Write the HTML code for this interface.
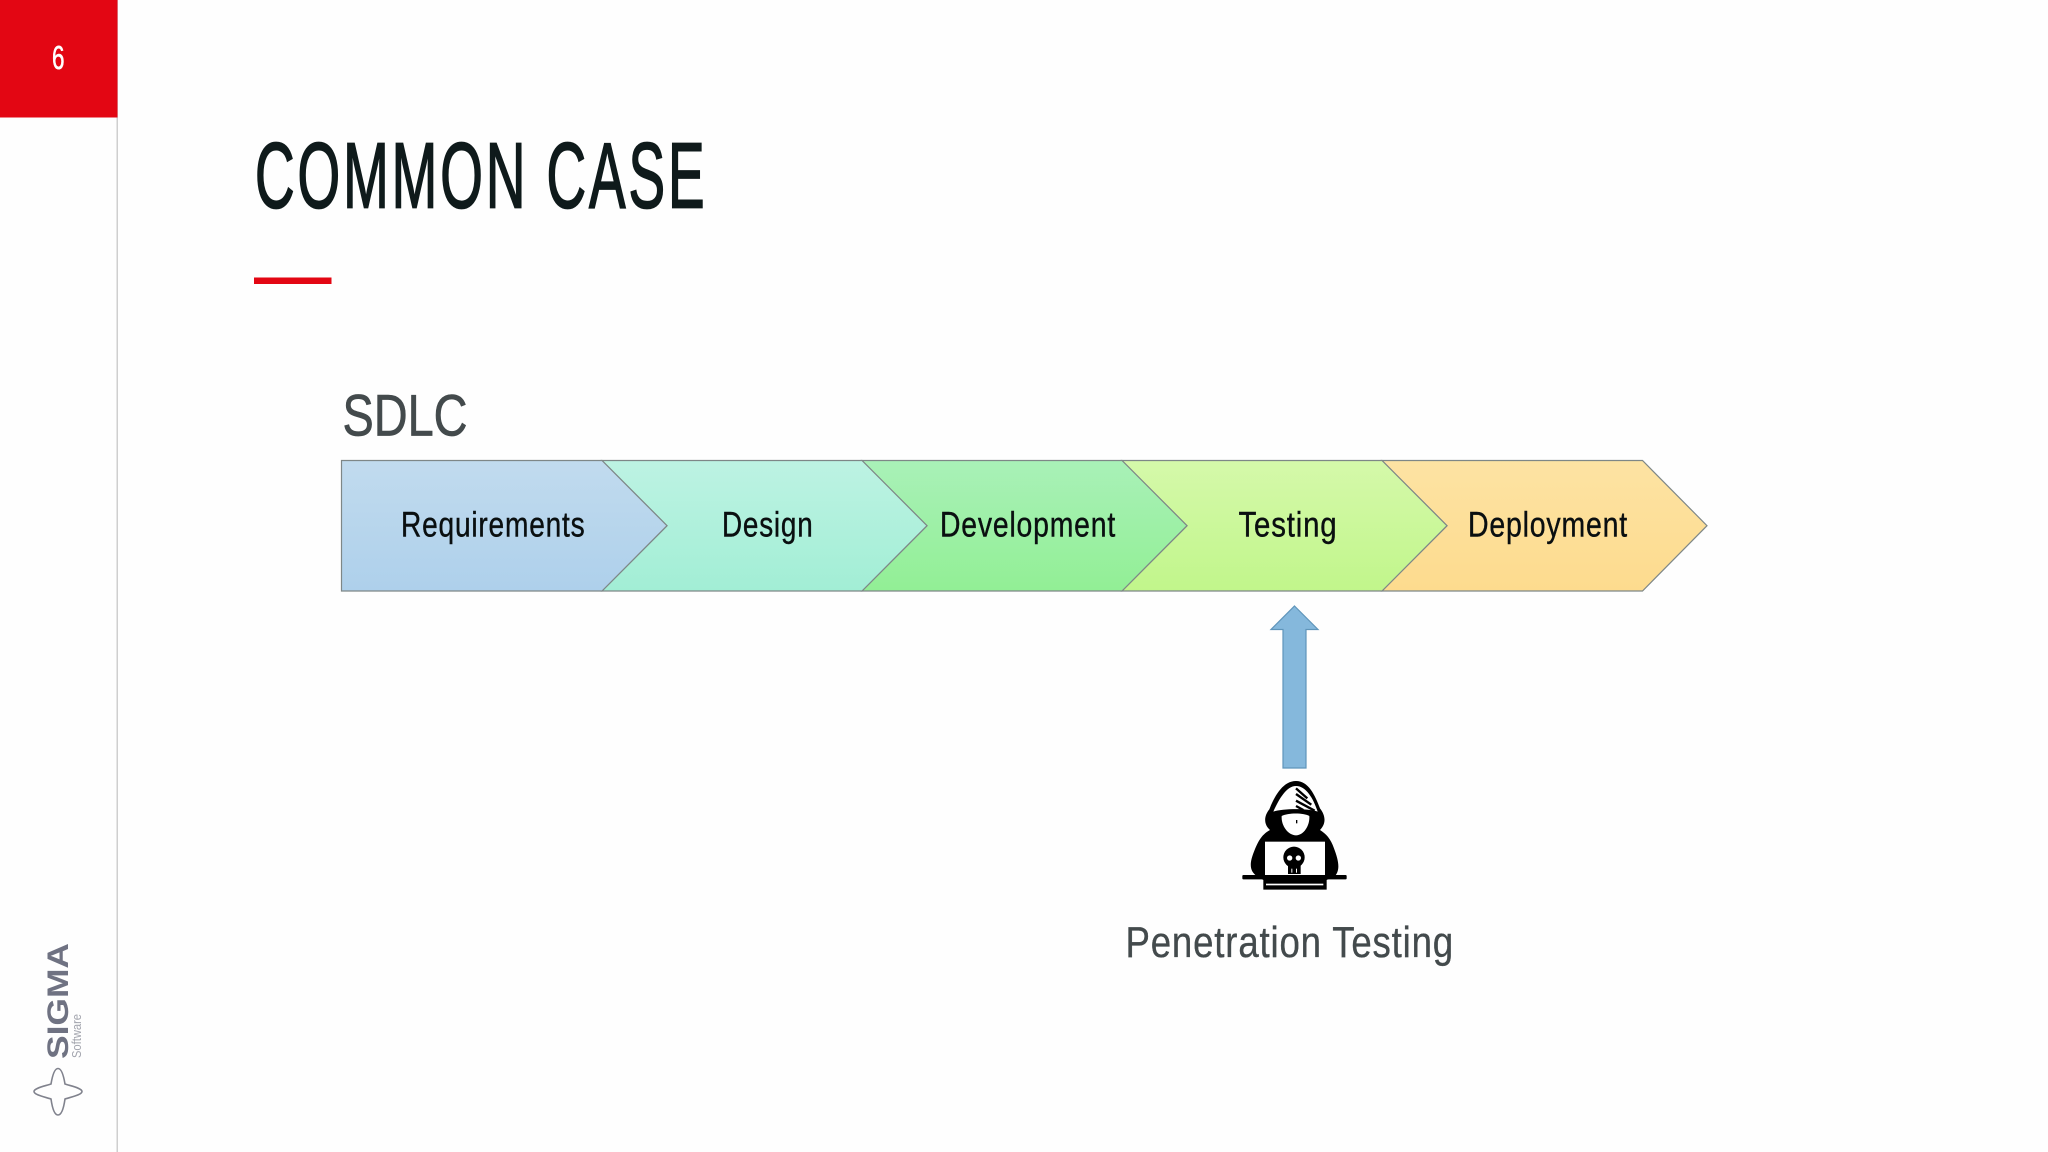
<!DOCTYPE html>
<html><head><meta charset="utf-8"><style>
html,body{margin:0;padding:0;background:#fff;width:2048px;height:1152px;overflow:hidden}
svg{display:block}
text{font-family:"Liberation Sans",sans-serif}
</style></head><body>
<svg width="2048" height="1152" viewBox="0 0 2048 1152" xmlns="http://www.w3.org/2000/svg">
<defs>
<linearGradient id="g1" x1="0" y1="0" x2="0" y2="1"><stop offset="0" stop-color="#c1dbee"/><stop offset="1" stop-color="#aed0eb"/></linearGradient>
<linearGradient id="g2" x1="0" y1="0" x2="0" y2="1"><stop offset="0" stop-color="#bdf3e3"/><stop offset="1" stop-color="#a2eed5"/></linearGradient>
<linearGradient id="g3" x1="0" y1="0" x2="0" y2="1"><stop offset="0" stop-color="#a9f1b8"/><stop offset="1" stop-color="#92ef95"/></linearGradient>
<linearGradient id="g4" x1="0" y1="0" x2="0" y2="1"><stop offset="0" stop-color="#d5f9aa"/><stop offset="1" stop-color="#c1f68b"/></linearGradient>
<linearGradient id="g5" x1="0" y1="0" x2="0" y2="1"><stop offset="0" stop-color="#fde3a3"/><stop offset="1" stop-color="#fddb8e"/></linearGradient>
</defs>
<rect width="2048" height="1152" fill="#fefefe"/>
<rect x="116.5" y="0" width="1.5" height="1152" fill="#cfcfcf"/>
<rect x="0" y="0" width="117.5" height="117.5" fill="#e30613"/>
<text x="52" y="69" font-size="33" fill="#fff" stroke="#fff" stroke-width="0.6" textLength="12.5" lengthAdjust="spacingAndGlyphs">6</text>

<text x="255" y="207.5" font-size="93" fill="#0f1a1b" stroke="#0f1a1b" stroke-width="1.8" letter-spacing="5" textLength="452.5" lengthAdjust="spacingAndGlyphs">COMMON CASE</text>
<rect x="254" y="277.5" width="77.5" height="6.5" fill="#e30613"/>

<text x="342.5" y="435.7" font-size="58" fill="#434a4c" stroke="#434a4c" stroke-width="0.7" textLength="125" lengthAdjust="spacingAndGlyphs">SDLC</text>

<g stroke="#7e8787" stroke-width="1.2" stroke-linejoin="miter">
<polygon points="1382,460.5 1642.5,460.5 1707,525.7 1642.5,591 1382,591 1447,525.7" fill="url(#g5)"/>
<polygon points="1122,460.5 1382,460.5 1447,525.7 1382,591 1122,591 1187,525.7" fill="url(#g4)"/>
<polygon points="862,460.5 1122,460.5 1187,525.7 1122,591 862,591 927,525.7" fill="url(#g3)"/>
<polygon points="602,460.5 862,460.5 927,525.7 862,591 602,591 667,525.7" fill="url(#g2)"/>
<polygon points="341.5,460.5 602,460.5 667,525.7 602,591 341.5,591" fill="url(#g1)"/>
</g>

<g font-size="35.5" fill="#0a0f10" stroke="#0a0f10" stroke-width="0.4" letter-spacing="1">
<text x="401" y="536.3" textLength="184.5" lengthAdjust="spacingAndGlyphs">Requirements</text>
<text x="722" y="536.3" textLength="91.5" lengthAdjust="spacingAndGlyphs">Design</text>
<text x="940" y="536.3" textLength="176" lengthAdjust="spacingAndGlyphs">Development</text>
<text x="1238.5" y="536.3" textLength="99" lengthAdjust="spacingAndGlyphs">Testing</text>
<text x="1468" y="536.3" textLength="160" lengthAdjust="spacingAndGlyphs">Deployment</text>
</g>

<polygon points="1294.5,606 1318,629.5 1306,629.5 1306,768 1283,768 1283,629.5 1271,629.5" fill="#85b8dc" stroke="#5f95ba" stroke-width="1.2"/>

<g transform="translate(1220,760) scale(0.33333)">
<path d="M228 63 C190 63 165 105 148 148 C130 170 132 195 150 210 C122 225 112 250 102 275 C88 310 88 332 110 348 L130 360 L130 389 L320 389 L320 360 L345 348 C362 328 355 300 342 265 C332 235 318 222 300 210 C320 190 316 165 300 145 C285 105 265 63 228 63Z" fill="#000"/>
<path d="M228 78 C200 78 178 115 160 155 C190 145 265 145 293 155 C280 115 258 78 228 78Z" fill="#fff"/>
<g stroke="#000" stroke-width="7" fill="none">
<line x1="228" y1="85" x2="262" y2="115"/>
<line x1="228" y1="102" x2="274" y2="134"/>
<line x1="228" y1="122" x2="284" y2="152"/>
<line x1="228" y1="138" x2="250" y2="150"/>
</g>
<path d="M185 168 C205 158 250 158 268 168 C270 198 250 226 228 226 C205 226 183 198 185 168Z" fill="#fff"/>
<rect x="228" y="180" width="4" height="10" fill="#000"/>
<rect x="135" y="245" width="180" height="100" fill="#fff"/>
<rect x="67" y="345" width="313" height="13" rx="3" fill="#000"/>
<rect x="138" y="371" width="172" height="5" fill="#fff"/>
<circle cx="222" cy="292" r="32" fill="#000"/>
<rect x="204" y="310" width="38" height="32" fill="#000"/>
<circle cx="209" cy="294" r="8" fill="#fff"/>
<circle cx="235" cy="294" r="8" fill="#fff"/>
<rect x="214" y="326" width="3" height="12" fill="#fff"/>
<rect x="228" y="326" width="3" height="12" fill="#fff"/>
</g>

<text x="1125.5" y="957" font-size="44" fill="#434a4c" stroke="#434a4c" stroke-width="0.35" letter-spacing="1" textLength="328.5" lengthAdjust="spacingAndGlyphs">Penetration Testing</text>

<text transform="translate(68,1059) rotate(-90)" font-size="30" font-weight="bold" fill="#6f7282" textLength="116" lengthAdjust="spacingAndGlyphs">SIGMA</text>
<text transform="translate(81,1058) rotate(-90)" font-size="13" fill="#a3a5ae" textLength="44" lengthAdjust="spacingAndGlyphs">Software</text>
<path d="M58 1068.5 C62 1068.5 64 1078 65 1084 C71 1086 82 1088 82 1091.5 C82 1095 71 1097 65 1099 C64 1106 62 1115 58 1115 C54 1115 52 1106 51 1099 C45 1097 34 1095 34 1091.5 C34 1088 45 1086 51 1084 C52 1078 54 1068.5 58 1068.5Z" fill="none" stroke="#80828d" stroke-width="1.6"/>
</svg>
</body></html>
